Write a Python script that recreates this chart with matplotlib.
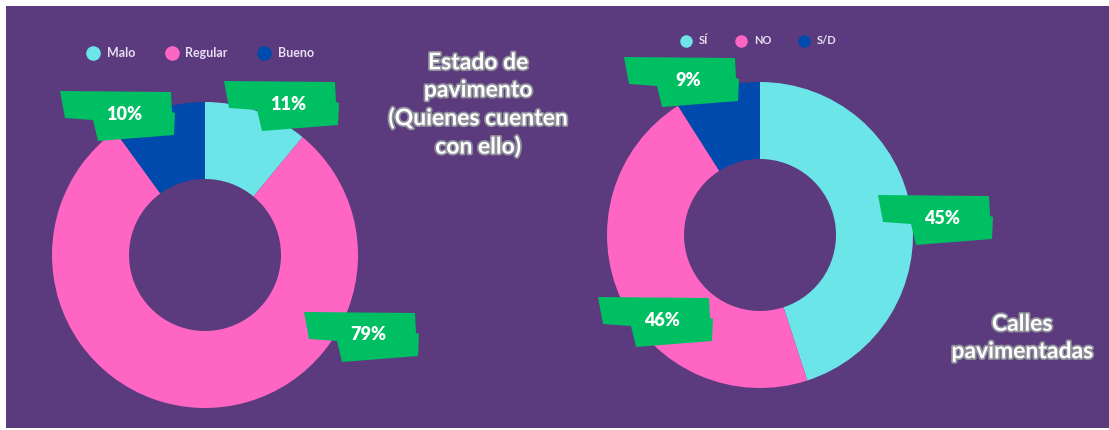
import numpy as np
import matplotlib
matplotlib.use('Agg')
import matplotlib.pyplot as plt
from matplotlib.patches import Polygon, Rectangle
from matplotlib.lines import Line2D
import matplotlib.patheffects as pe

## data
estado_labels = ['Malo', 'Regular', 'Bueno']
estado_values = [11, 79, 10]
calles_labels = ['SÍ', 'NO', 'S/D']
calles_values = [45, 46, 9]

## style
colors = ['#6ce5e8', '#ff66c4', '#004aad']
bg = '#5b3a7e'
green = '#00bf63'
W, H = 1109, 430
plt.rcParams['font.family'] = ['Lato', 'DejaVu Sans']

fig = plt.figure(figsize=(W / 100, H / 100), dpi=100)
fig.patch.set_facecolor('white')
ax = fig.add_axes([0, 0, 1, 1])
ax.add_patch(Rectangle((6, 2), W - 6, H - 8, fc=bg, ec='none', zorder=0))

wp = dict(width=77, linewidth=0)
ax.pie(estado_values, colors=colors, center=(205, 175), radius=153,
       startangle=90, counterclock=False, wedgeprops=wp)
ax.pie(calles_values, colors=colors, center=(760, 195), radius=153,
       startangle=90, counterclock=False, wedgeprops=wp)
ax.set_xlim(0, W)
ax.set_ylim(0, H)
ax.set_aspect('equal')
ax.axis('off')

# green flag-shaped label, offsets in pixels around the text centre
shape = np.array([(-64, 23), (47, 22), (48, 2), (51, 1), (50, -21),
                  (-26, -27), (-31, -6), (-59, -4)])

def banner(x, y, value):
    ax.add_patch(Polygon(shape + [x, y], closed=True, fc=green, ec='none', zorder=3))
    ax.text(x, y, f'{value}%', ha='center', va='center', color='white',
            fontsize=13, fontweight='heavy', zorder=4)

estado_pos = [(288, 430 - 104), (368, 430 - 335), (124, 430 - 114)]
calles_pos = [(942, 430 - 218), (662, 430 - 320), (688, 430 - 80)]
for (x, y), v in zip(estado_pos, estado_values):
    banner(x, y, v)
for (x, y), v in zip(calles_pos, calles_values):
    banner(x, y, v)

# legends
def handles(ms):
    return [Line2D([], [], marker='o', ls='', markersize=ms, color=c, mec='none') for c in colors]

leg1 = ax.legend(handles(10.5), estado_labels, loc='center', bbox_to_anchor=(200 / W, 1 - 53 / H),
                 ncol=3, frameon=False, handletextpad=0.5, columnspacing=2.3, handlelength=1.2,
                 prop=dict(size=9, weight='bold'), labelcolor='#e8def2')
ax.add_artist(leg1)
ax.legend(handles(9), calles_labels, loc='center', bbox_to_anchor=(758 / W, 1 - 41 / H),
          ncol=3, frameon=False, handletextpad=0.6, columnspacing=2.3, handlelength=1.2,
          prop=dict(size=8, weight='bold'), labelcolor='#e8def2')

# titles
glow = [pe.withStroke(linewidth=2.5, foreground='#8f8f9a')]
ax.text(478, 430 - 105, 'Estado de\npavimento\n(Quienes cuenten\ncon ello)', ha='center', va='center',
        color='white', fontsize=16.5, fontweight='bold', linespacing=1.38, path_effects=glow)
ax.text(1022, 430 - 338, 'Calles\npavimentadas', ha='center', va='center',
        color='white', fontsize=16.5, fontweight='bold', linespacing=1.38, path_effects=glow)

fig.savefig('out.png', dpi=100, facecolor=fig.get_facecolor())
